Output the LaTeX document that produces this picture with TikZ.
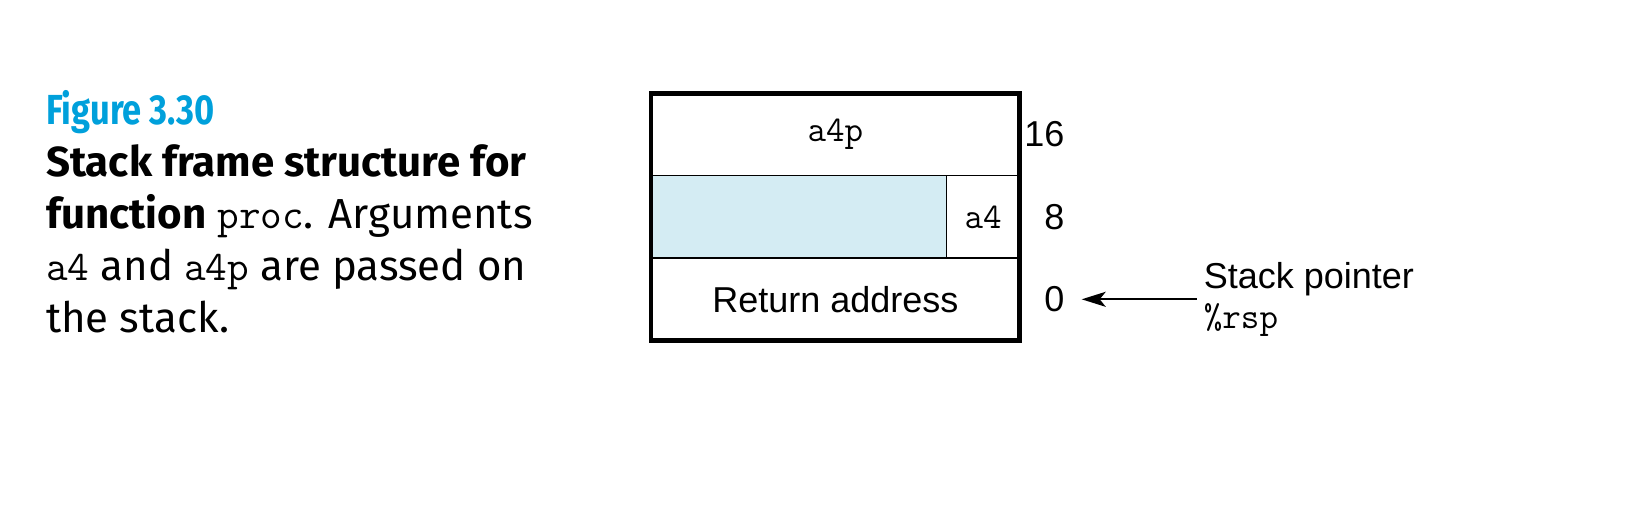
\documentclass[tikz,border=0pt]{standalone}
\usepackage{fontspec}
\setmainfont{Fira Sans}
\newfontfamily\figfont{Fira Sans}[FakeStretch=0.82]
\newfontfamily\helv{Liberation Sans}
\usepackage{xcolor}
\usetikzlibrary{arrows.meta,positioning}
\definecolor{figblue}{RGB}{0,160,219}
\definecolor{slotblue}{RGB}{212,236,243}

\begin{document}
\begin{tikzpicture}[x=1pt,y=-1pt,
		cell/.style={draw,line width=1.3pt,inner sep=0pt,outer sep=0pt,minimum height=82.4pt,
			font=\helv\fontsize{36}{40}\selectfont},
		offset/.style={inner sep=0pt,font=\helv\fontsize{36}{40}\selectfont}]
	\useasboundingbox (0,0) rectangle (1632,514);
	% caption on the left
	\node[anchor=north west,align=left,inner sep=0pt,font=\fontsize{42}{52}\selectfont] (caption) at (46,90)
	{
		{\figfont\color{figblue}\bfseries Figure 3.30}\\
		{\bfseries Stack frame structure for}\\
		{\bfseries function} {\ttfamily proc}. Arguments\\
		{\ttfamily a4} and {\ttfamily a4p} are passed on\\
		the stack.
	};
	% the stack frame
	\node[cell,minimum width=368.7pt,anchor=north west] (a4pslot) at (651,93.3) {\ttfamily a4p};
	\node[cell,minimum width=295.7pt,fill=slotblue,anchor=north west] (padslot) at (a4pslot.south west) {};
	\node[cell,minimum width=73pt,anchor=west] (a4slot) at (padslot.east) {\ttfamily a4};
	\node[cell,minimum width=368.7pt,anchor=north west] (retslot) at (padslot.south west) {Return address};
	\draw[line width=4.5pt] (a4pslot.north west) rectangle (retslot.south east);
	% offsets
	\node[offset,anchor=east] (off16) at ([xshift=45pt]a4pslot.east) {16};
	\node[offset,anchor=east] (off8) at ([xshift=45pt]a4slot.east) {8};
	\node[offset,anchor=east] (off0) at ([xshift=45pt]retslot.east) {0};
	% stack pointer
	\node[offset,anchor=west,align=left] (sp) at ([xshift=139pt]off0.east)
	{
		Stack pointer\\
		{\ttfamily\%rsp}
	};
	\draw[-{Stealth[length=24pt,width=15pt,inset=6pt]},line width=2pt,shorten <=7pt,shorten >=17pt] (sp.west) -- (off0.east);
\end{tikzpicture}
\end{document}
